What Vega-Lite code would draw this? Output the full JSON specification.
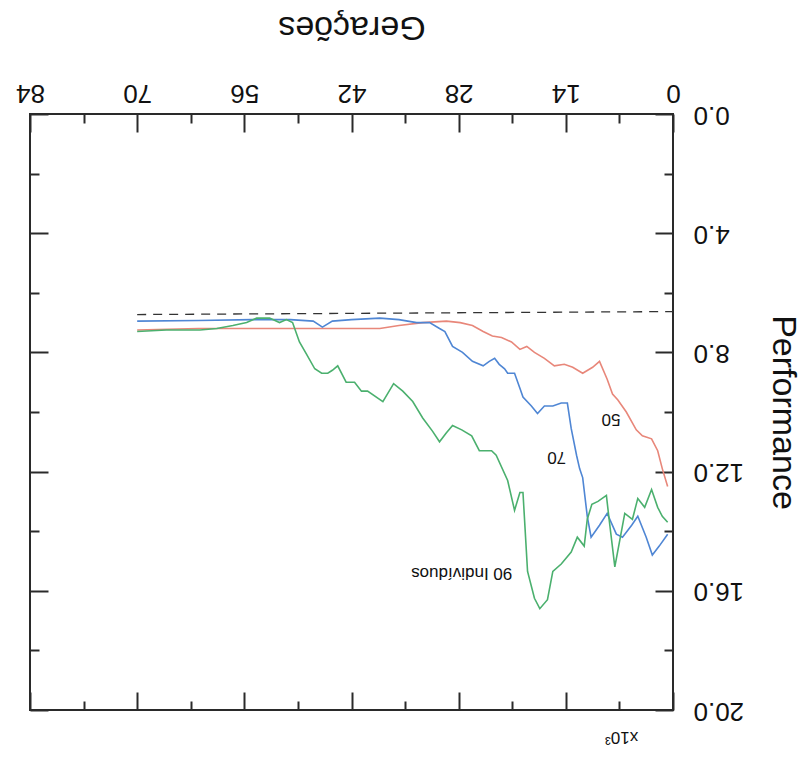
{
  "$schema": "https://vega.github.io/schema/vega-lite/v6.json",
  "width": 643,
  "height": 596,
  "autosize": {"type": "none"},
  "padding": {"left": 30, "top": 114, "right": 130, "bottom": 49},
  "background": "white",
  "config": {
    "view": {"stroke": "#2a2a2a", "strokeWidth": 2},
    "font": "Liberation Sans",
    "axis": {
      "domain": false,
      "grid": false,
      "tickColor": "#2a2a2a",
      "tickWidth": 2,
      "labelColor": "#111111",
      "titleColor": "#111111",
      "labelFont": "Liberation Sans",
      "titleFont": "Liberation Sans",
      "titleFontWeight": "normal",
      "labelFlush": false,
      "labelOverlap": false
    }
  },
  "datasets": {
    "dash": [
      {"geracao": 0, "performance": 6.63},
      {"geracao": 70, "performance": 6.73}
    ],
    "series": [
      {"serie": "50", "geracao": 0.7, "performance": 12.5},
      {"serie": "50", "geracao": 1.4, "performance": 11.9},
      {"serie": "50", "geracao": 2.0, "performance": 11.3},
      {"serie": "50", "geracao": 2.8, "performance": 10.9},
      {"serie": "50", "geracao": 4.0, "performance": 10.8},
      {"serie": "50", "geracao": 4.8, "performance": 10.6},
      {"serie": "50", "geracao": 6.1, "performance": 10.0},
      {"serie": "50", "geracao": 7.2, "performance": 9.6},
      {"serie": "50", "geracao": 7.9, "performance": 9.4},
      {"serie": "50", "geracao": 8.6, "performance": 8.9},
      {"serie": "50", "geracao": 9.6, "performance": 8.3},
      {"serie": "50", "geracao": 10.5, "performance": 8.5},
      {"serie": "50", "geracao": 11.8, "performance": 8.7},
      {"serie": "50", "geracao": 13.1, "performance": 8.5},
      {"serie": "50", "geracao": 14.2, "performance": 8.4},
      {"serie": "50", "geracao": 15.5, "performance": 8.45},
      {"serie": "50", "geracao": 16.8, "performance": 8.2},
      {"serie": "50", "geracao": 18.1, "performance": 8.0},
      {"serie": "50", "geracao": 19.1, "performance": 7.8},
      {"serie": "50", "geracao": 20.0, "performance": 7.9},
      {"serie": "50", "geracao": 21.1, "performance": 7.65},
      {"serie": "50", "geracao": 22.4, "performance": 7.5},
      {"serie": "50", "geracao": 23.6, "performance": 7.45},
      {"serie": "50", "geracao": 24.8, "performance": 7.3},
      {"serie": "50", "geracao": 26.2, "performance": 7.1},
      {"serie": "50", "geracao": 27.8, "performance": 7.0},
      {"serie": "50", "geracao": 29.6, "performance": 6.95},
      {"serie": "50", "geracao": 32.7, "performance": 7.0},
      {"serie": "50", "geracao": 35.8, "performance": 7.1},
      {"serie": "50", "geracao": 38.3, "performance": 7.2},
      {"serie": "50", "geracao": 45, "performance": 7.2},
      {"serie": "50", "geracao": 55, "performance": 7.2},
      {"serie": "50", "geracao": 62, "performance": 7.2},
      {"serie": "50", "geracao": 70, "performance": 7.25},
      {"serie": "70", "geracao": 0.7, "performance": 14.1},
      {"serie": "70", "geracao": 1.8, "performance": 14.5},
      {"serie": "70", "geracao": 2.7, "performance": 14.8},
      {"serie": "70", "geracao": 3.5, "performance": 14.2},
      {"serie": "70", "geracao": 4.6, "performance": 13.5},
      {"serie": "70", "geracao": 5.4, "performance": 13.8},
      {"serie": "70", "geracao": 6.6, "performance": 14.2},
      {"serie": "70", "geracao": 7.4, "performance": 14.1},
      {"serie": "70", "geracao": 8.6, "performance": 13.4},
      {"serie": "70", "geracao": 9.6, "performance": 13.8},
      {"serie": "70", "geracao": 10.7, "performance": 14.2},
      {"serie": "70", "geracao": 11.2, "performance": 13.5},
      {"serie": "70", "geracao": 11.8, "performance": 12.2},
      {"serie": "70", "geracao": 12.2, "performance": 11.9},
      {"serie": "70", "geracao": 12.6, "performance": 11.45},
      {"serie": "70", "geracao": 13.3, "performance": 10.55},
      {"serie": "70", "geracao": 13.8, "performance": 9.7},
      {"serie": "70", "geracao": 14.6, "performance": 9.7},
      {"serie": "70", "geracao": 15.7, "performance": 9.8},
      {"serie": "70", "geracao": 16.8, "performance": 9.8},
      {"serie": "70", "geracao": 17.7, "performance": 10.05},
      {"serie": "70", "geracao": 18.5, "performance": 9.8},
      {"serie": "70", "geracao": 19.6, "performance": 9.5},
      {"serie": "70", "geracao": 20.0, "performance": 9.2},
      {"serie": "70", "geracao": 20.7, "performance": 8.7},
      {"serie": "70", "geracao": 21.6, "performance": 8.7},
      {"serie": "70", "geracao": 22.0, "performance": 8.55},
      {"serie": "70", "geracao": 22.7, "performance": 8.4},
      {"serie": "70", "geracao": 23.3, "performance": 8.2},
      {"serie": "70", "geracao": 24.0, "performance": 8.3},
      {"serie": "70", "geracao": 24.8, "performance": 8.45},
      {"serie": "70", "geracao": 26.2, "performance": 8.3},
      {"serie": "70", "geracao": 27.5, "performance": 8.0},
      {"serie": "70", "geracao": 28.8, "performance": 7.8},
      {"serie": "70", "geracao": 29.8, "performance": 7.3},
      {"serie": "70", "geracao": 30.5, "performance": 7.2},
      {"serie": "70", "geracao": 31.8, "performance": 7.0},
      {"serie": "70", "geracao": 33.5, "performance": 7.0},
      {"serie": "70", "geracao": 35.8, "performance": 6.9},
      {"serie": "70", "geracao": 38.3, "performance": 6.85},
      {"serie": "70", "geracao": 42, "performance": 6.9},
      {"serie": "70", "geracao": 44.5, "performance": 6.95},
      {"serie": "70", "geracao": 45.8, "performance": 7.15},
      {"serie": "70", "geracao": 47, "performance": 6.95},
      {"serie": "70", "geracao": 50, "performance": 6.9},
      {"serie": "70", "geracao": 55, "performance": 6.9},
      {"serie": "70", "geracao": 62, "performance": 6.93},
      {"serie": "70", "geracao": 70, "performance": 6.95},
      {"serie": "90", "geracao": 0.7, "performance": 13.7},
      {"serie": "90", "geracao": 1.4, "performance": 13.5},
      {"serie": "90", "geracao": 2.0, "performance": 13.2},
      {"serie": "90", "geracao": 2.8, "performance": 12.6},
      {"serie": "90", "geracao": 3.7, "performance": 13.2},
      {"serie": "90", "geracao": 4.6, "performance": 12.9},
      {"serie": "90", "geracao": 5.3, "performance": 13.6},
      {"serie": "90", "geracao": 6.3, "performance": 13.4},
      {"serie": "90", "geracao": 7.6, "performance": 15.2},
      {"serie": "90", "geracao": 8.3, "performance": 13.7},
      {"serie": "90", "geracao": 8.7, "performance": 12.8},
      {"serie": "90", "geracao": 9.8, "performance": 13.0},
      {"serie": "90", "geracao": 10.6, "performance": 13.1},
      {"serie": "90", "geracao": 11.2, "performance": 13.6},
      {"serie": "90", "geracao": 11.6, "performance": 14.5},
      {"serie": "90", "geracao": 12.5, "performance": 14.2},
      {"serie": "90", "geracao": 13.3, "performance": 14.7},
      {"serie": "90", "geracao": 14.6, "performance": 15.1},
      {"serie": "90", "geracao": 15.7, "performance": 15.35},
      {"serie": "90", "geracao": 16.4, "performance": 16.3},
      {"serie": "90", "geracao": 17.4, "performance": 16.6},
      {"serie": "90", "geracao": 18.1, "performance": 16.25},
      {"serie": "90", "geracao": 19.0, "performance": 15.35},
      {"serie": "90", "geracao": 19.6, "performance": 12.7},
      {"serie": "90", "geracao": 20.0, "performance": 12.7},
      {"serie": "90", "geracao": 20.7, "performance": 13.3},
      {"serie": "90", "geracao": 21.6, "performance": 12.3},
      {"serie": "90", "geracao": 23.1, "performance": 11.45},
      {"serie": "90", "geracao": 23.7, "performance": 11.3},
      {"serie": "90", "geracao": 25.3, "performance": 11.3},
      {"serie": "90", "geracao": 26.3, "performance": 10.8},
      {"serie": "90", "geracao": 27.6, "performance": 10.6},
      {"serie": "90", "geracao": 28.8, "performance": 10.45},
      {"serie": "90", "geracao": 29.6, "performance": 10.7},
      {"serie": "90", "geracao": 30.5, "performance": 11.0},
      {"serie": "90", "geracao": 31.4, "performance": 10.65},
      {"serie": "90", "geracao": 32.7, "performance": 10.2},
      {"serie": "90", "geracao": 34.0, "performance": 9.65},
      {"serie": "90", "geracao": 35.3, "performance": 9.3},
      {"serie": "90", "geracao": 36.5, "performance": 9.05},
      {"serie": "90", "geracao": 37.9, "performance": 9.65},
      {"serie": "90", "geracao": 39.9, "performance": 9.3},
      {"serie": "90", "geracao": 40.7, "performance": 9.3},
      {"serie": "90", "geracao": 41.6, "performance": 9.0},
      {"serie": "90", "geracao": 42.7, "performance": 9.0},
      {"serie": "90", "geracao": 43.8, "performance": 8.45},
      {"serie": "90", "geracao": 44.5, "performance": 8.6},
      {"serie": "90", "geracao": 45.1, "performance": 8.7},
      {"serie": "90", "geracao": 45.9, "performance": 8.7},
      {"serie": "90", "geracao": 46.8, "performance": 8.55},
      {"serie": "90", "geracao": 47.9, "performance": 8.05},
      {"serie": "90", "geracao": 48.8, "performance": 7.65},
      {"serie": "90", "geracao": 49.7, "performance": 7.0},
      {"serie": "90", "geracao": 50.5, "performance": 6.9},
      {"serie": "90", "geracao": 51.4, "performance": 7.0},
      {"serie": "90", "geracao": 52.7, "performance": 6.85},
      {"serie": "90", "geracao": 54.4, "performance": 6.85},
      {"serie": "90", "geracao": 55.7, "performance": 7.0},
      {"serie": "90", "geracao": 57.5, "performance": 7.1},
      {"serie": "90", "geracao": 59.6, "performance": 7.2},
      {"serie": "90", "geracao": 61.8, "performance": 7.25},
      {"serie": "90", "geracao": 66.2, "performance": 7.25},
      {"serie": "90", "geracao": 70, "performance": 7.3}
    ],
    "labels": [
      {"t": "50", "geracao": 8.1, "performance": 10.23},
      {"t": "70", "geracao": 15.2, "performance": 11.5},
      {"t": "90 Indivíduos", "geracao": 27.6, "performance": 15.4},
      {"t": "x10³", "geracao": 6.7, "performance": 20.9}
    ]
  },
  "layer": [
    {
      "data": {"name": "dash"},
      "mark": {"type": "line", "strokeDash": [9, 7], "color": "#333333", "strokeWidth": 1.3},
      "encoding": {
        "x": {
          "field": "geracao", "type": "quantitative",
          "scale": {"domain": [0, 84], "reverse": true, "nice": false, "zero": false},
          "axis": {
            "orient": "top",
            "values": [0, 7, 14, 21, 28, 35, 42, 49, 56, 63, 70, 77, 84],
            "labelExpr": "datum.value % 14 === 0 ? datum.label : ''",
            "tickSize": {"condition": {"test": "datum.value % 14 === 0", "value": -18}, "value": -9},
            "labelAngle": 180,
            "labelAlign": "center",
            "labelBaseline": "middle",
            "labelFontSize": 26,
            "labelPadding": 40,
            "title": "Gerações",
            "titleAngle": 180,
            "titleFontSize": 34,
            "titleBaseline": "top",
            "titlePadding": 27
          }
        },
        "y": {
          "field": "performance", "type": "quantitative",
          "scale": {"domain": [0, 20], "reverse": true, "nice": false, "zero": false},
          "axis": {
            "orient": "right",
            "values": [0, 2, 4, 6, 8, 10, 12, 14, 16, 18, 20],
            "labelExpr": "datum.value % 4 === 0 ? format(datum.value, '.1f') : ''",
            "tickSize": {"condition": {"test": "datum.value % 4 === 0", "value": -18}, "value": -9},
            "labelAngle": 180,
            "labelAlign": "right",
            "labelBaseline": "middle",
            "labelFontSize": 26,
            "labelPadding": 38,
            "title": "Performance",
            "titleAngle": 90,
            "titleFontSize": 34,
            "titlePadding": 22
          }
        }
      }
    },
    {
      "data": {"name": "series"},
      "mark": {"type": "line", "strokeWidth": 1.6},
      "encoding": {
        "x": {
          "field": "geracao", "type": "quantitative",
          "axis": {
            "orient": "bottom",
            "values": [0, 7, 14, 21, 28, 35, 42, 49, 56, 63, 70, 77, 84],
            "labels": false,
            "title": null,
            "tickSize": {"condition": {"test": "datum.value % 14 === 0", "value": -18}, "value": -9}
          }
        },
        "y": {
          "field": "performance", "type": "quantitative",
          "axis": {
            "orient": "left",
            "values": [0, 2, 4, 6, 8, 10, 12, 14, 16, 18, 20],
            "labels": false,
            "title": null,
            "tickSize": {"condition": {"test": "datum.value % 4 === 0", "value": -18}, "value": -9}
          }
        },
        "color": {
          "field": "serie", "type": "nominal",
          "scale": {"domain": ["50", "70", "90"], "range": ["#e8877a", "#4f86d4", "#4bb06e"]},
          "legend": null
        }
      }
    },
    {
      "data": {"name": "labels"},
      "mark": {"type": "text", "angle": 180, "fontSize": 17, "align": "center", "baseline": "middle", "color": "#111111", "font": "Liberation Sans"},
      "encoding": {
        "x": {"field": "geracao", "type": "quantitative", "axis": null},
        "y": {"field": "performance", "type": "quantitative", "axis": null},
        "text": {"field": "t"}
      }
    }
  ]
}
